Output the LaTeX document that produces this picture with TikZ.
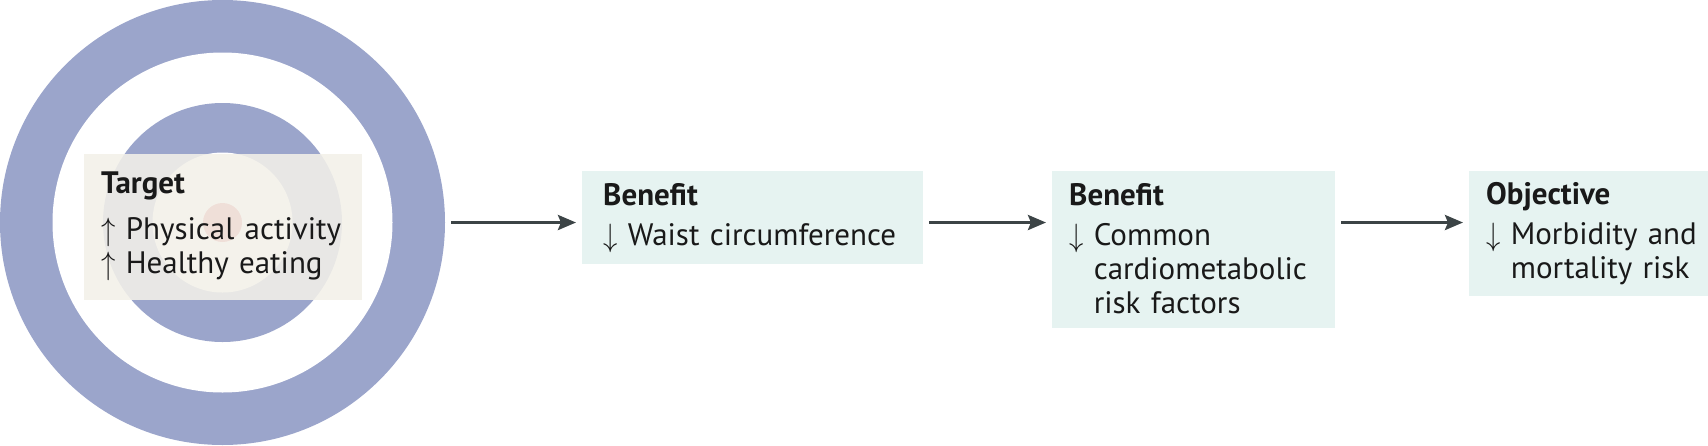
\documentclass[tikz,border=0pt]{standalone}
\usepackage{fontspec}
\setmainfont{PT Sans}
\usepackage{graphicx}
\usepackage{xcolor}
\definecolor{ringblue}{RGB}{155,165,203}
\definecolor{bullred}{RGB}{218,95,100}
\definecolor{targetcream}{RGB}{243,241,233}
\definecolor{boxteal}{RGB}{230,243,241}
\definecolor{arrowgray}{RGB}{60,68,70}
\colorlet{RINGCOLOR}{ringblue}
\colorlet{BULLCOLOR}{bullred}
\colorlet{TARGETCOLOR}{targetcream}
\colorlet{BOXCOLOR}{boxteal}
\colorlet{ARROWCOLOR}{arrowgray}
\colorlet{TEXTCOLOR}{black!90}
\usepackage{tikz}
\usetikzlibrary{arrows.meta,positioning,calc}
\tikzset{
  ring-style/.style = {
    circle, draw=none, fill=#1,
    inner sep=0pt, outer sep=0pt
  },
  target-style/.style = {
    rectangle, draw=none,
    fill=TARGETCOLOR, fill opacity=0.88,
    anchor=north west, inner sep=0pt
  },
  box-style/.style = {
    rectangle, draw=none, fill=BOXCOLOR,
    anchor=north west, inner sep=0pt
  },
  label-style/.style = {
    anchor=base west, inner sep=0pt,
    text width=400pt, align=left,
    text=TEXTCOLOR,
    font=\fontsize{31}{34}\selectfont
  },
  every edge/.style = {
    draw=ARROWCOLOR, line width=3.2pt,
    -{Stealth[length=18pt,width=15pt,inset=3pt]},
    shorten <=6pt, shorten >=6pt
  }
}
\newcommand\headName[1]{{\bfseries #1}}
\newcommand\upSign{\raisebox{-1.5pt}{\scalebox{1.15}[1.3]{$\uparrow$}}}
\newcommand\downSign{\raisebox{-1.5pt}{\scalebox{1.15}[1.3]{$\downarrow$}}}
\newcommand\upLine[1]{\upSign\ #1}
\newcommand\downLine[1]{\downSign\ #1}
\newcommand\hangLine[1]{\phantom{\downSign}\ #1}
\def\createBox name:#1 at:#2 width:#3 height:#4;{
  \node [box-style, minimum width=#3, minimum height=#4] (#1) at (#2) {};
}

\begin{document}
\begin{tikzpicture}[x=1pt,y=-1pt]
  \useasboundingbox (0,0) rectangle (1708,445);

  % target rings
  \node [ring-style=RINGCOLOR, minimum size=445pt] (ring-outer) at (222.5,222.5) {};
  \node [ring-style=white, minimum size=340pt] (ring-gap) at (ring-outer) {};
  \node [ring-style=RINGCOLOR, minimum size=239pt] (ring-inner) at (ring-outer) {};
  \node [ring-style=white, minimum size=140pt] (ring-core) at (ring-outer) {};
  \node [ring-style=BULLCOLOR, minimum size=39pt] (bull) at (ring-outer) {};

  \node [target-style, minimum width=278pt, minimum height=146pt] (target) at (84,154) {};
  \node [label-style] (target-text) at ([xshift=17pt,yshift=-39pt]target.north west)
    {\headName{Target}\\[12pt]\upLine{Physical activity}\\\upLine{Healthy eating}};

  % boxes
  \createBox name:benefit-a at:{582,171} width:341pt height:93pt;
  \createBox name:benefit-b at:{1052,171} width:283pt height:157pt;
  \createBox name:objective at:{1469,171} width:250pt height:125pt;

  \node [label-style] (benefit-a-text) at ([xshift=21pt,yshift=-34pt]benefit-a.north west)
    {\headName{Benefit}\\[6pt]\downLine{Waist circumference}};
  \node [label-style] (benefit-b-text) at ([xshift=17pt,yshift=-34pt]benefit-b.north west)
    {\headName{Benefit}\\[6pt]\downLine{Common}\\\hangLine{cardiometabolic}\\\hangLine{risk factors}};
  \node [label-style] (objective-text) at ([xshift=17pt,yshift=-33pt]objective.north west)
    {\headName{Objective}\\[6pt]\downLine{Morbidity and}\\\hangLine{mortality risk}};

  % arrows
  \path (ring-outer) edge (ring-outer -| benefit-a.west);
  \path (benefit-a.east |- ring-outer) edge (ring-outer -| benefit-b.west);
  \path (benefit-b.east |- ring-outer) edge (ring-outer -| objective.west);
\end{tikzpicture}
\end{document}
